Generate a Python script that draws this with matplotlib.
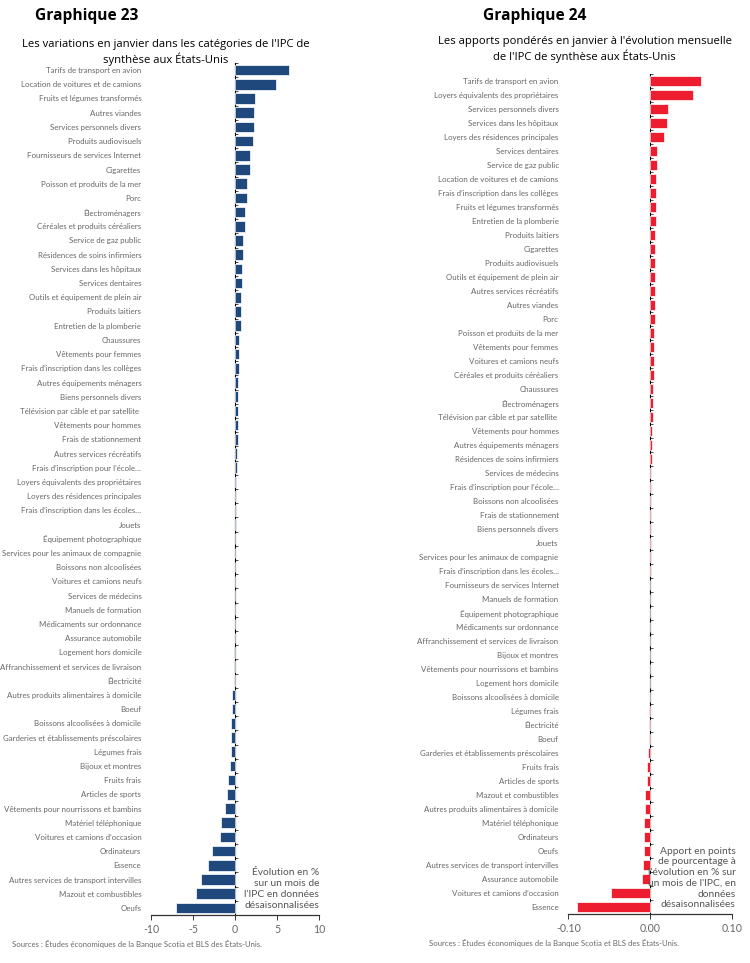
import matplotlib
matplotlib.use("Agg")
import matplotlib.pyplot as plt
import numpy as np

# ---------------- data ----------------
left_categories = [
    "Tarifs de transport en avion",
    "Location de voitures et de camions",
    "Fruits et légumes transformés",
    "Autres viandes",
    "Services personnels divers",
    "Produits audiovisuels",
    "Fournisseurs de services Internet",
    "Cigarettes",
    "Poisson et produits de la mer",
    "Porc",
    "Électroménagers",
    "Céréales et produits céréaliers",
    "Service de gaz public",
    "Résidences de soins infirmiers",
    "Services dans les hôpitaux",
    "Services dentaires",
    "Outils et équipement de plein air",
    "Produits laitiers",
    "Entretien de la plomberie",
    "Chaussures",
    "Vêtements pour femmes",
    "Frais d’inscription dans les collèges",
    "Autres équipements ménagers",
    "Biens personnels divers",
    "Télévision par câble et par satellite ",
    "Vêtements pour hommes",
    "Frais de stationnement",
    "Autres services récréatifs",
    "Frais d’inscription pour l’école…",
    "Loyers équivalents des propriétaires",
    "Loyers des résidences principales",
    "Frais d’inscription dans les écoles…",
    "Jouets",
    "Équipement photographique",
    "Services pour les animaux de compagnie",
    "Boissons non alcoolisées",
    "Voitures et camions neufs",
    "Services de médecins",
    "Manuels de formation",
    "Médicaments sur ordonnance",
    "Assurance automobile",
    "Logement hors domicile",
    "Affranchissement et services de livraison",
    "Électricité",
    "Autres produits alimentaires à domicile",
    "Boeuf",
    "Boissons alcoolisées à domicile",
    "Garderies et établissements préscolaires",
    "Légumes frais",
    "Bijoux et montres",
    "Fruits frais",
    "Articles de sports",
    "Vêtements pour nourrissons et bambins",
    "Matériel téléphonique",
    "Voitures et camions d’occasion",
    "Ordinateurs",
    "Essence",
    "Autres services de transport intervilles",
    "Mazout et combustibles",
    "Oeufs",
]
left_values = [
    6.4, 4.9, 2.35, 2.25, 2.25, 2.2, 1.75, 1.75, 1.47, 1.4,
    1.23, 1.15, 0.95, 0.95, 0.87, 0.87, 0.75, 0.75, 0.75, 0.48,
    0.48, 0.48, 0.33, 0.33, 0.32, 0.32, 0.31, 0.28, 0.27, 0.16,
    0.16, 0.15, 0.15, 0.05, 0.04, 0.03, 0.02, 0.01, 0.01, 0.0,
    -0.02, -0.08, -0.1, -0.12, -0.3, -0.4, -0.42, -0.5, -0.52, -0.65,
    -0.8, -0.9, -1.2, -1.7, -1.8, -2.7, -3.2, -4.0, -4.7, -7.05,
]

right_categories = [
    "Tarifs de transport en avion",
    "Loyers équivalents des propriétaires",
    "Services personnels divers",
    "Services dans les hôpitaux",
    "Loyers des résidences principales",
    "Services dentaires",
    "Service de gaz public",
    "Location de voitures et de camions",
    "Frais d’inscription dans les collèges",
    "Fruits et légumes transformés",
    "Entretien de la plomberie",
    "Produits laitiers",
    "Cigarettes",
    "Produits audiovisuels",
    "Outils et équipement de plein air",
    "Autres services récréatifs",
    "Autres viandes",
    "Porc",
    "Poisson et produits de la mer",
    "Vêtements pour femmes",
    "Voitures et camions neufs",
    "Céréales et produits céréaliers",
    "Chaussures",
    "Électroménagers",
    "Télévision par câble et par satellite ",
    "Vêtements pour hommes",
    "Autres équipements ménagers",
    "Résidences de soins infirmiers",
    "Services de médecins",
    "Frais d’inscription pour l’école…",
    "Boissons non alcoolisées",
    "Frais de stationnement",
    "Biens personnels divers",
    "Jouets",
    "Services pour les animaux de compagnie",
    "Frais d’inscription dans les écoles…",
    "Fournisseurs de services Internet",
    "Manuels de formation",
    "Équipement photographique",
    "Médicaments sur ordonnance",
    "Affranchissement et services de livraison",
    "Bijoux et montres",
    "Vêtements pour nourrissons et bambins",
    "Logement hors domicile",
    "Boissons alcoolisées à domicile",
    "Légumes frais",
    "Électricité",
    "Boeuf",
    "Garderies et établissements préscolaires",
    "Fruits frais",
    "Articles de sports",
    "Mazout et combustibles",
    "Autres produits alimentaires à domicile",
    "Matériel téléphonique",
    "Ordinateurs",
    "Oeufs",
    "Autres services de transport intervilles",
    "Assurance automobile",
    "Voitures et camions d’occasion",
    "Essence",
]
right_values = [
    0.0614, 0.0524, 0.0220, 0.0199, 0.0163, 0.0085, 0.0077, 0.0069, 0.0068, 0.0065,
    0.0064, 0.0060, 0.0059, 0.0058, 0.0057, 0.0056, 0.0053, 0.0052, 0.0051, 0.0050,
    0.0045, 0.0044, 0.0030, 0.0029, 0.0028, 0.0025, 0.0024, 0.0020, 0.0012, 0.0011,
    0.0010, 0.0008, 0.0007, 0.0005, 0.0004, 0.0003, 0.0002, 0.0001, 0.0001, 0.0000,
    0.0000, -0.0005, -0.0006, -0.0006, -0.0008, -0.0016, -0.0016, -0.0017, -0.0024, -0.0037,
    -0.0038, -0.0060, -0.0061, -0.0073, -0.0077, -0.0081, -0.0085, -0.0106, -0.0476, -0.0894,
]

left_ticks = [-10, -5, 0, 5, 10]
left_ticklabels = ["-10", "-5", "0", "5", "10"]
right_ticks = [-0.10, 0.0, 0.10]
right_ticklabels = ["-0.10", "0.00", "0.10"]

# ---------------- style ----------------
BLUE = "#1f497d"
RED = "#ed1c2e"
LABEL_GRAY = "#676767"
AXIS_GRAY = "#333333"
LIGHT = ["Lato", "DejaVu Sans"]
TITLE = ["Open Sans", "DejaVu Sans"]

fig = plt.figure(figsize=(7.5, 9.63), dpi=100)
fig.patch.set_facecolor("white")


def draw_panel(ax, cats, vals, color, xlim, ticks, ticklabels):
    n = len(cats)
    y = np.arange(n)
    ax.barh(y, vals, height=0.74, color=color, edgecolor="white", linewidth=0.5, zorder=2)
    ax.set_ylim(n - 0.5, -0.5)
    ax.set_xlim(*xlim)
    for s in ["top", "right", "left"]:
        ax.spines[s].set_visible(False)
    ax.spines["bottom"].set_color(AXIS_GRAY)
    ax.spines["bottom"].set_linewidth(0.9)
    ax.set_yticks(y)
    ax.set_yticklabels(cats, fontsize=5.7, color=LABEL_GRAY, family=LIGHT)
    ax.tick_params(axis="y", length=0, pad=7)
    ax.set_xticks(ticks)
    ax.set_xticklabels(ticklabels, fontsize=7.6, color=LABEL_GRAY, family=LIGHT)
    ax.tick_params(axis="x", direction="out", length=3.5, width=0.7, color=AXIS_GRAY, pad=3)
    # vertical zero axis with category boundary ticks
    sec = ax.secondary_yaxis(0.5)
    sec.set_yticks(np.arange(-0.5, n, 1.0))
    sec.set_yticklabels([])
    sec.tick_params(direction="out", length=2.2, width=0.6, color=AXIS_GRAY)
    sec.spines["left"].set_color(AXIS_GRAY)
    sec.spines["left"].set_linewidth(0.9)
    ax.set_facecolor("none")


ax1 = fig.add_axes([151 / 750, 1 - 915 / 963, 168 / 750, (915 - 63) / 963])
draw_panel(ax1, left_categories, left_values, BLUE, (-10, 10), left_ticks, left_ticklabels)

ax2 = fig.add_axes([568.3 / 750, 1 - 914.3 / 963, 164 / 750, (914.3 - 74.3) / 963])
draw_panel(ax2, right_categories, right_values, RED, (-0.10, 0.10), right_ticks, right_ticklabels)

# titles
fig.text(35 / 750, 1 - 16 / 963, "Graphique 23", fontsize=11.2, fontweight="bold",
         family=TITLE, ha="left", va="center", color="black")
fig.text(483 / 750, 1 - 16 / 963, "Graphique 24", fontsize=11.2, fontweight="bold",
         family=TITLE, ha="left", va="center", color="black")
fig.text(165.5 / 750, 1 - 52.5 / 963,
         "Les variations en janvier dans les catégories de l'IPC de\nsynthèse aux États-Unis",
         fontsize=8.15, family=TITLE, fontweight="medium", ha="center", va="center", color="black",
         linespacing=1.2)
fig.text(584.5 / 750, 1 - 49.5 / 963,
         "Les apports pondérés en janvier à l'évolution mensuelle\nde l'IPC de synthèse aux États-Unis",
         fontsize=8.15, family=TITLE, fontweight="medium", ha="center", va="center", color="black",
         linespacing=1.2)

# annotations
ax1.text(1.0, 0.006, "Évolution en %\nsur un mois de\nl'IPC en données\ndésaisonnalisées",
         transform=ax1.transAxes, ha="right", va="bottom", fontsize=7.4,
         family=LIGHT, color="#555555", linespacing=1.3)
ax2.text(1.02, 0.006,
         "Apport en points\nde pourcentage à\nl'évolution en % sur\nun mois de l'IPC, en\ndonnées\ndésaisonnalisées",
         transform=ax2.transAxes, ha="right", va="bottom", fontsize=7.4,
         family=LIGHT, color="#555555", linespacing=1.25)

# sources
fig.text(12 / 750, 1 - 944 / 963,
         "Sources : Études économiques de la Banque Scotia et BLS des États-Unis.",
         fontsize=5.6, family=LIGHT, color=LABEL_GRAY, ha="left", va="center")
fig.text(429 / 750, 1 - 942.5 / 963,
         "Sources : Études économiques de la Banque Scotia et BLS des États-Unis.",
         fontsize=5.6, family=LIGHT, color=LABEL_GRAY, ha="left", va="center")

fig.savefig("out.png", dpi=100, facecolor="white")
